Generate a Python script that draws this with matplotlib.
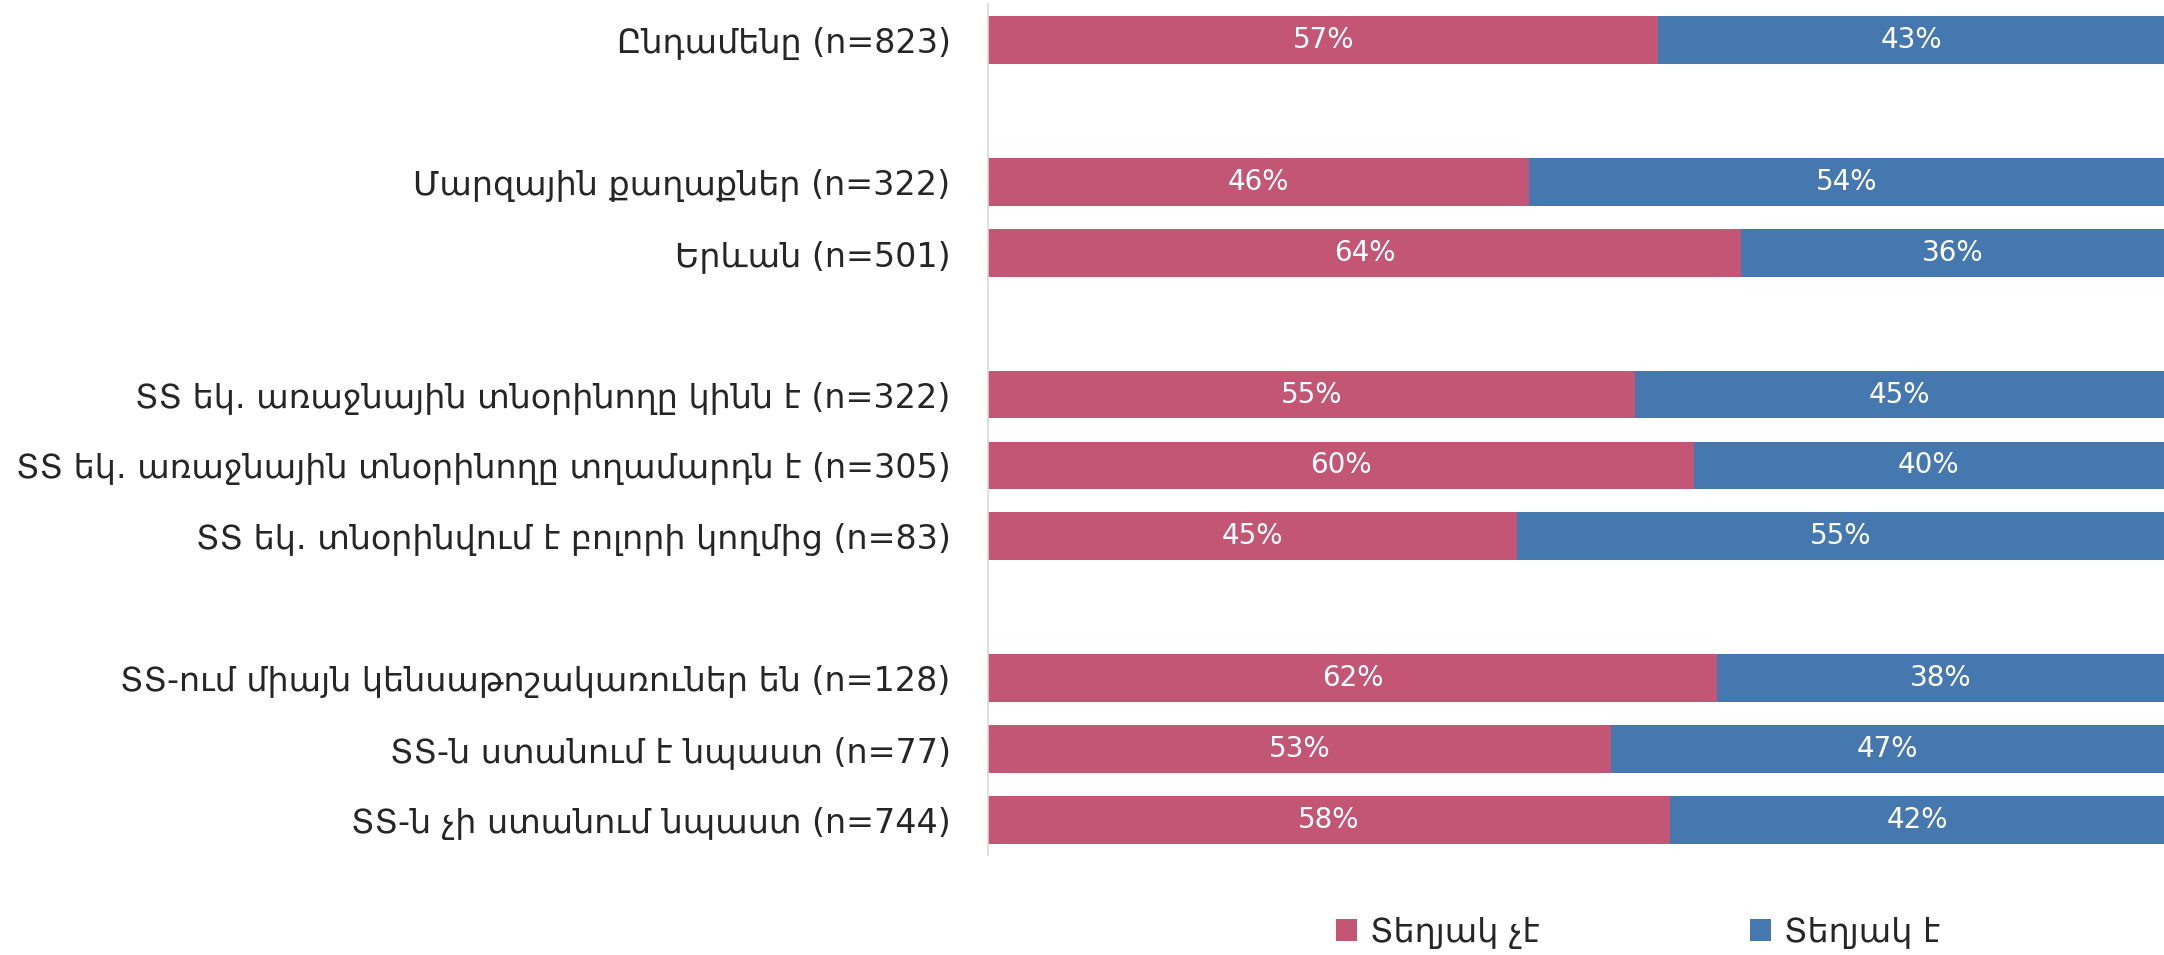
import matplotlib.pyplot as plt
import numpy as np

plt.rcParams['font.family'] = ['DejaVu Sans']

# categories (top to bottom) and row slots (gaps between groups)
labels = [
    "Ընդամենը (n=823)",
    "Մարզային քաղաքներ (n=322)",
    "Երևան (n=501)",
    "ՏՏ եկ. առաջնային տնօրինողը կինն է (n=322)",
    "ՏՏ եկ. առաջնային տնօրինողը տղամարդն է (n=305)",
    "ՏՏ եկ. տնօրինվում է բոլորի կողմից (n=83)",
    "ՏՏ-ում միայն կենսաթոշակառուներ են (n=128)",
    "ՏՏ-ն ստանում է նպաստ (n=77)",
    "ՏՏ-ն չի ստանում նպաստ (n=744)",
]
rows = [0, 2, 3, 5, 6, 7, 9, 10, 11]

not_aware = [57, 46, 64, 55, 60, 45, 62, 53, 58]
aware = [43, 54, 36, 45, 40, 55, 38, 47, 42]

series_names = ["Տեղյակ չէ", "Տեղյակ է"]
colors = ["#C45675", "#4678B0"]

fig = plt.figure(figsize=(21.64, 9.55), dpi=100)
ax = fig.add_axes((0.4566, 0.1042, 0.5434, 0.8911))

h = 0.675
b1 = ax.barh(rows, not_aware, height=h, color=colors[0], label=series_names[0])
b2 = ax.barh(rows, aware, left=not_aware, height=h, color=colors[1], label=series_names[1])

for bars, vals in [(b1, not_aware), (b2, aware)]:
    for bar, v in zip(bars, vals):
        ax.text(bar.get_x() + bar.get_width() / 2, bar.get_y() + bar.get_height() / 2,
                f"{v}%", ha="center", va="center", color="white", fontsize=20)

ax.set_xlim(0, 100)
ax.set_ylim(11.5, -0.5)
ax.set_yticks(rows)
ax.set_yticklabels(labels, fontsize=24, color="#262626")
ax.tick_params(axis="y", length=0, pad=27)
ax.set_xticks([])
for s in ["top", "right", "bottom"]:
    ax.spines[s].set_visible(False)
ax.spines["left"].set_color("#D9D9D9")
ax.spines["left"].set_linewidth(1.2)

fig.legend(loc="center", bbox_to_anchor=(0.757, 0.024), ncol=2, frameon=False,
           fontsize=24, handlelength=0.63, handleheight=0.63, handletextpad=0.4,
           columnspacing=6.3, labelcolor="#262626")

fig.savefig("out.png", dpi=100)
